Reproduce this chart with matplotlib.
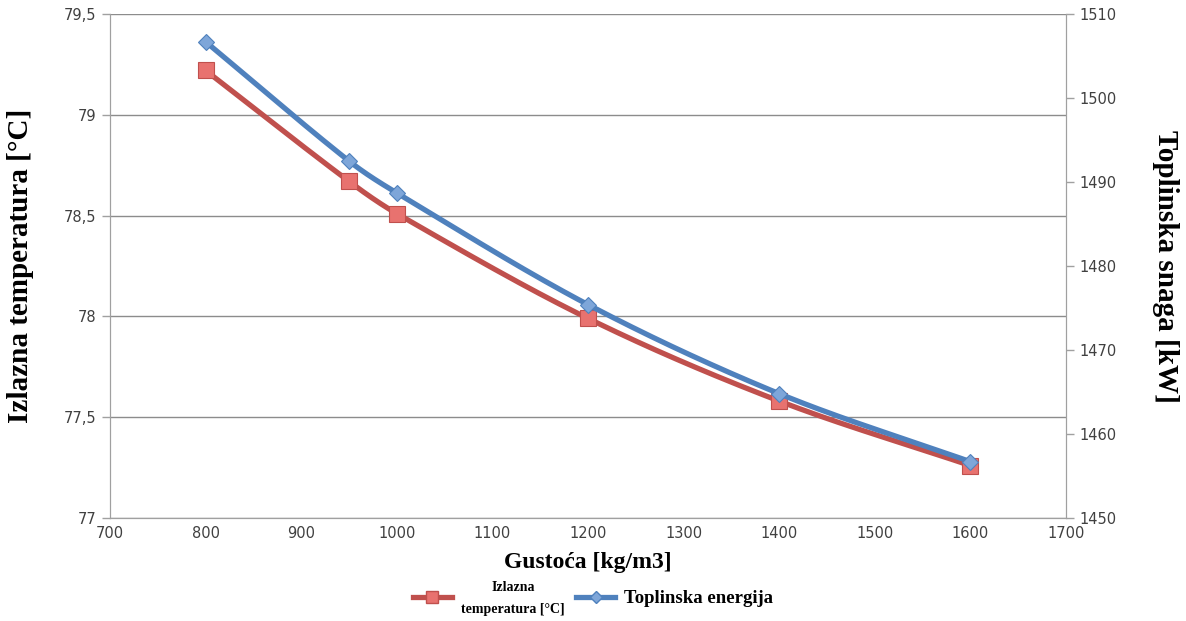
import numpy as np
import matplotlib
matplotlib.use("Agg")
import matplotlib.pyplot as plt
from matplotlib.lines import Line2D

density = [800, 950, 1000, 1200, 1400, 1600]
temp_out = [79.22, 78.67, 78.51, 77.99, 77.58, 77.26]
heat_power = [1506.7, 1492.5, 1488.7, 1475.4, 1464.8, 1456.7]

x_ticks = list(range(700, 1701, 100))
left_ticks = [77, 77.5, 78, 78.5, 79, 79.5]
left_labels = ["77", "77,5", "78", "78,5", "79", "79,5"]
right_ticks = [1450, 1460, 1470, 1480, 1490, 1500, 1510]


def smooth(x, y, n=40):
    # cubic Hermite smoothing of the drawn path through the data points
    x = np.asarray(x, float); y = np.asarray(y, float)
    m = np.empty_like(y)
    m[1:-1] = (y[2:] - y[:-2]) / (x[2:] - x[:-2])
    m[0] = (y[1] - y[0]) / (x[1] - x[0])
    m[-1] = (y[-1] - y[-2]) / (x[-1] - x[-2])
    xs, ys = [], []
    for i in range(len(x) - 1):
        h = x[i + 1] - x[i]
        t = np.linspace(0, 1, n)
        if i > 0:
            t = t[1:]
        h00 = 2 * t**3 - 3 * t**2 + 1
        h10 = t**3 - 2 * t**2 + t
        h01 = -2 * t**3 + 3 * t**2
        h11 = t**3 - t**2
        xs.append(x[i] + t * h)
        ys.append(h00 * y[i] + h10 * h * m[i] + h01 * y[i + 1] + h11 * h * m[i + 1])
    return np.concatenate(xs), np.concatenate(ys)


red_line = "#C0504D"
red_fill = "#E8726F"
blue_line = "#4F81BD"
blue_fill = "#7EA6D9"
tick_color = "#404040"
grid_color = "#8C8C8C"

fig = plt.figure(figsize=(11.86, 6.21), dpi=100)
ax = fig.add_axes([0.0927, 0.1659, 0.8061, 0.8116])
ax2 = ax.twinx()

sx, sy = smooth(density, temp_out)
ax.plot(sx, sy, color=red_line, lw=3.8, solid_capstyle="round", zorder=3)
ax.plot(density, temp_out, ls="none", marker="s", ms=11, mfc=red_fill,
        mec=red_line, mew=0.8, zorder=4)

bx, by = smooth(density, heat_power)
ax2.plot(bx, by, color=blue_line, lw=3.8, solid_capstyle="round", zorder=3)
ax2.plot(density, heat_power, ls="none", marker="D", ms=8, mfc=blue_fill,
         mec=blue_line, mew=0.8, zorder=4)

ax.set_xlim(700, 1700)
ax.set_ylim(77, 79.5)
ax2.set_ylim(1450, 1510)
ax.set_xticks(x_ticks)
ax.set_xticklabels([str(v) for v in x_ticks])
ax.set_yticks(left_ticks)
ax.set_yticklabels(left_labels)
ax2.set_yticks(right_ticks)
ax2.set_yticklabels([str(v) for v in right_ticks])

ax.grid(axis="y", color=grid_color, lw=1.0)
ax.set_axisbelow(True)
for a in (ax, ax2):
    a.spines["top"].set_visible(False)
    for s in ("left", "right", "bottom"):
        a.spines[s].set_color("#A0A0A0")
    a.tick_params(colors="#A0A0A0", labelcolor=tick_color, labelsize=10.5, length=6,
                  direction="out", width=1)
ax.tick_params(axis="x", length=0, pad=6)

serif = ["Liberation Serif", "DejaVu Serif"]
ax.set_xlabel("Gustoća [kg/m3]", fontsize=17, fontweight="bold", family=serif, labelpad=8)
ax.set_ylabel("Izlazna temperatura [°C]", fontsize=21, fontweight="bold", family=serif, labelpad=22)
ax2.set_ylabel("Toplinska snaga [kW]", fontsize=21, fontweight="bold", family=serif,
               rotation=270, labelpad=45)

h1 = Line2D([], [], color=red_line, lw=3.8, marker="s", ms=9, mfc=red_fill, mec=red_line)
h2 = Line2D([], [], color=blue_line, lw=3.8, marker="D", ms=6, mfc=blue_fill, mec=blue_line)
leg = fig.legend([h1, h2], ["Izlazna\ntemperatura [°C]", "Toplinska energija"],
                 loc="lower center", bbox_to_anchor=(0.5, -0.018), ncol=2, frameon=False,
                 handlelength=2.2, handletextpad=0.5, columnspacing=0.6,
                 prop={"family": serif, "weight": "bold", "size": 13})
t0, t1 = leg.get_texts()
t0.set_fontsize(10)
t0.set_multialignment("center")
t0.set_linespacing(1.9)
t1.set_fontsize(13.5)

fig.savefig("out.png", dpi=100)
